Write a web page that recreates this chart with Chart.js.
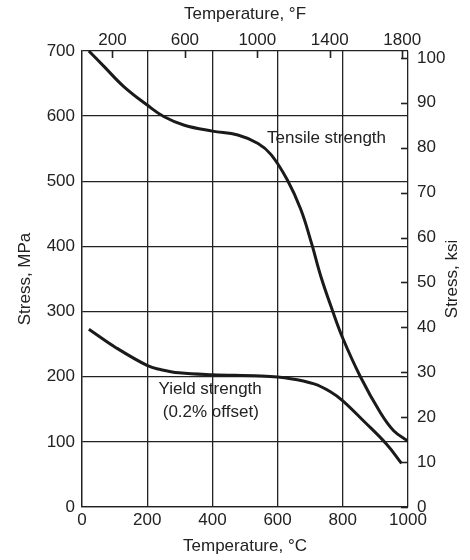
<!DOCTYPE html>
<html><head><meta charset="utf-8">
<script src="https://cdn.jsdelivr.net/npm/chart.js@4/dist/chart.umd.min.js"></script>
<style>html,body{margin:0;padding:0;background:#fff}</style>
</head><body>
<canvas id="c" width="470" height="560"></canvas>
<script>
// ---- data ----
const tensileTempC = [21, 68, 129, 200, 252, 314, 400, 478, 540, 580, 630, 671, 704, 732, 768, 800, 854, 915, 956, 1000];
const tensileMPa   = [700, 676, 645, 617, 599, 586, 577, 571, 558, 541, 502, 457, 405, 355, 302, 259, 200, 145, 117, 101];
const yieldTempC   = [21, 103, 201, 241, 297, 400, 548, 640, 712, 762, 800, 864, 935, 980];
const yieldMPa     = [273, 245, 217, 211, 206, 203, 201, 197, 189, 177, 163, 132, 96, 67];
const celsiusTicks = [0, 200, 400, 600, 800, 1000];
const mpaTicks     = [0, 100, 200, 300, 400, 500, 600, 700];
const fahrenheitTicks = [200, 600, 1000, 1400, 1800];
const ksiTicks     = [0, 10, 20, 30, 40, 50, 60, 70, 80, 90, 100];

const MPA_PER_KSI = 6.894757;
const FONT = '"Liberation Sans", Arial, sans-serif';
const INK = '#222';
const FS = 17;

const toXY = (xs, ys) => xs.map((x, i) => ({x, y: ys[i]}));
const setTicks = list => scale => { scale.ticks = list.map(v => ({value: v})); };
const plain = v => String(v);

const extras = {
  id: 'extras',
  afterDraw(chart) {
    const {ctx, chartArea: a, scales} = chart;
    ctx.save();
    ctx.strokeStyle = INK; ctx.lineWidth = 1.6;
    scales.xTop.ticks.forEach(t => {
      const px = Math.round(scales.xTop.getPixelForValue(t.value)) + 0.5;
      ctx.beginPath(); ctx.moveTo(px, a.top); ctx.lineTo(px, a.top + 7); ctx.stroke();
    });
    scales.yRight.ticks.forEach(t => {
      const py = Math.round(scales.yRight.getPixelForValue(t.value)) + 0.5;
      ctx.beginPath(); ctx.moveTo(a.right, py); ctx.lineTo(a.right - 7, py); ctx.stroke();
    });
    // right axis title, reading bottom-to-top
    ctx.fillStyle = INK; ctx.font = FS + 'px ' + FONT;
    ctx.textAlign = 'center'; ctx.textBaseline = 'middle';
    ctx.translate(452, (a.top + a.bottom) / 2);
    ctx.rotate(-Math.PI / 2);
    ctx.fillText('Stress, ksi', 0, 0);
    ctx.restore();
    // curve labels
    const x = scales.x, y = scales.y;
    ctx.save();
    ctx.fillStyle = INK; ctx.font = FS + 'px ' + FONT;
    ctx.textAlign = 'center'; ctx.textBaseline = 'middle';
    ctx.fillText('Tensile strength', x.getPixelForValue(750), y.getPixelForValue(566));
    ctx.fillText('Yield strength', x.getPixelForValue(393), y.getPixelForValue(181));
    ctx.fillText('(0.2% offset)', x.getPixelForValue(395), y.getPixelForValue(146));
    ctx.restore();
  }
};

Chart.defaults.font.family = FONT;
Chart.defaults.font.size = FS;
Chart.defaults.color = INK;

new Chart(document.getElementById('c'), {
  type: 'line',
  data: {
    datasets: [
      {label: 'Tensile strength', data: toXY(tensileTempC, tensileMPa), xAxisID: 'x', yAxisID: 'y',
       borderColor: '#1a1a1a', borderWidth: 3, pointRadius: 0, tension: 0.4, fill: false},
      {label: 'Yield strength (0.2% offset)', data: toXY(yieldTempC, yieldMPa), xAxisID: 'x', yAxisID: 'y',
       borderColor: '#1a1a1a', borderWidth: 3, pointRadius: 0, tension: 0.4, fill: false}
    ]
  },
  options: {
    responsive: false, animation: false,
    layout: {padding: 0},
    plugins: {legend: {display: false}, tooltip: {enabled: false}},
    scales: {
      x: {type: 'linear', position: 'bottom', min: 0, max: 1000,
          afterBuildTicks: setTicks(celsiusTicks),
          ticks: {padding: 3, maxRotation: 0, callback: plain},
          grid: {color: INK, lineWidth: 1.3, drawTicks: false},
          border: {display: true, color: INK, width: 1.3},
          title: {display: true, text: 'Temperature, °C', padding: {top: 0, bottom: 3}},
          afterFit: s => { s.height = 53; }},
      y: {type: 'linear', position: 'left', min: 0, max: 700,
          afterBuildTicks: setTicks(mpaTicks),
          ticks: {padding: 7, callback: plain},
          grid: {color: INK, lineWidth: 1.3, drawTicks: false},
          border: {display: true, color: INK, width: 1.3},
          title: {display: true, text: 'Stress, MPa', padding: {top: 15, bottom: 0}},
          afterFit: s => { s.width = 82; }},
      xTop: {type: 'linear', position: 'top', min: 32, max: 1832,
          afterBuildTicks: setTicks(fahrenheitTicks),
          ticks: {padding: 0, maxRotation: 0, callback: plain},
          grid: {display: false, drawTicks: false},
          border: {display: false},
          title: {display: true, text: 'Temperature, °F', padding: {top: 4, bottom: 0}},
          afterFit: s => { s.height = 51; }},
      yRight: {type: 'linear', position: 'right', min: 0, max: 700 / MPA_PER_KSI,
          afterBuildTicks: setTicks(ksiTicks),
          ticks: {padding: 9, callback: plain},
          grid: {display: false, drawTicks: false},
          border: {display: false},
          afterFit: s => { s.width = 62; }}
    }
  },
  plugins: [extras]
});
</script>
</body></html>
